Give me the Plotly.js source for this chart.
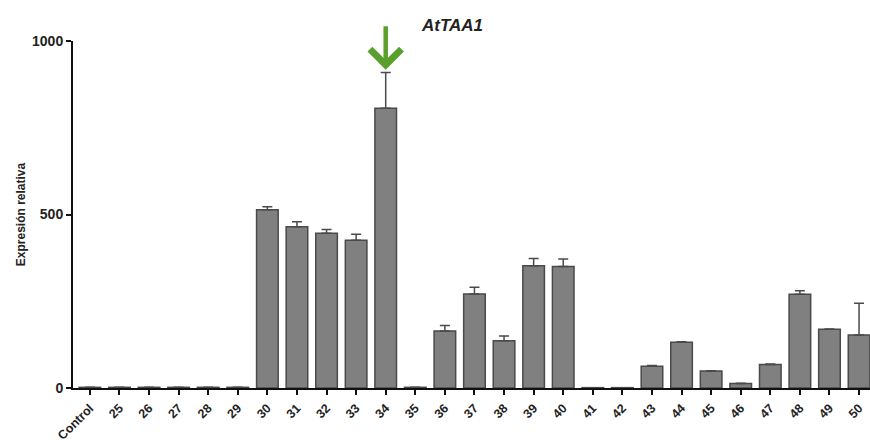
<!DOCTYPE html>
<html>
<head>
<meta charset="utf-8">
<script src="https://cdn.plot.ly/plotly-3.0.1.min.js"></script>
<style>html,body{margin:0;padding:0;background:#fff;}#chart{width:870px;height:443px;}</style>
</head>
<body>
<div id="chart"></div>
<script>
var categories = ["Control","25","26","27","28","29","30","31","32","33","34","35","36","37","38","39","40","41","42","43","44","45","46","47","48","49","50"];
var values =     [2, 2, 2, 2, 2, 2, 514, 465, 446, 426, 806, 2, 164, 271, 136, 352, 350, 1, 1, 63, 132, 49, 13, 68, 270, 169, 153];
var errorsUp =   [0, 0, 0, 0, 0, 0, 8, 14, 11, 17, 103, 0, 16, 19, 14, 21, 22, 0, 0, 2, 1, 1, 1, 1, 10, 1, 91];
var yTicks = [0, 500, 1000];
var labelText = "AtTAA1";
var highlight = "34";

var idx = categories.indexOf(highlight);
var arrowTip = values[idx] + errorsUp[idx] + 8;

var trace = {
  type: "bar",
  x: categories,
  y: values,
  marker: {color: "#808080", line: {color: "#4a4a4a", width: 1.5}},
  error_y: {type: "data", symmetric: false, array: errorsUp, arrayminus: errorsUp.map(function(){return 0;}), color: "#4a4a4a", thickness: 1.5, width: 5},
  hoverinfo: "none"
};

var layout = {
  width: 870, height: 443,
  margin: {l: 73, r: 0, t: 41, b: 55},
  paper_bgcolor: "#fff", plot_bgcolor: "#fff",
  showlegend: false,
  bargap: 0.27,
  font: {family: "Liberation Sans, Arial, sans-serif", color: "#222"},
  xaxis: {
    type: "category",
    range: [-0.57, 26.37],
    showline: true, linecolor: "#111", linewidth: 2,
    ticks: "outside", ticklen: 5, tickwidth: 1.5, tickcolor: "#111",
    tickangle: -45,
    ticklabelstandoff: 1,
    tickfont: {size: 12.5, weight: "bold", color: "#222"},
    showgrid: false, zeroline: false
  },
  yaxis: {
    range: [0, 1000],
    tickvals: yTicks,
    ticktext: yTicks.map(String),
    showline: true, linecolor: "#111", linewidth: 2,
    ticks: "outside", ticklen: 5, tickwidth: 1.5, tickcolor: "#111",
    tickfont: {size: 14, weight: "bold", color: "#222"},
    showgrid: false, zeroline: false,
    title: {text: "Expresión relativa", font: {size: 12, weight: "bold", color: "#222"}, standoff: 4}
  },
  annotations: [
    {xref: "x", yref: "y", x: idx, y: arrowTip, text: "", showarrow: true, axref: "pixel", ayref: "pixel", ax: 0, ay: -45, arrowhead: 4, arrowsize: 1.35, arrowwidth: 4.5, arrowcolor: "#5aa02c", standoff: 0, startstandoff: 0},
    {xref: "x", yref: "paper", x: idx + 2.25, y: 1.046, text: "<b><i>" + labelText + "</i></b>", showarrow: false, font: {size: 17, color: "#222"}, xanchor: "center", yanchor: "middle"}
  ]
};

Plotly.newPlot("chart", [trace], layout, {displayModeBar: false});
</script>
</body>
</html>
